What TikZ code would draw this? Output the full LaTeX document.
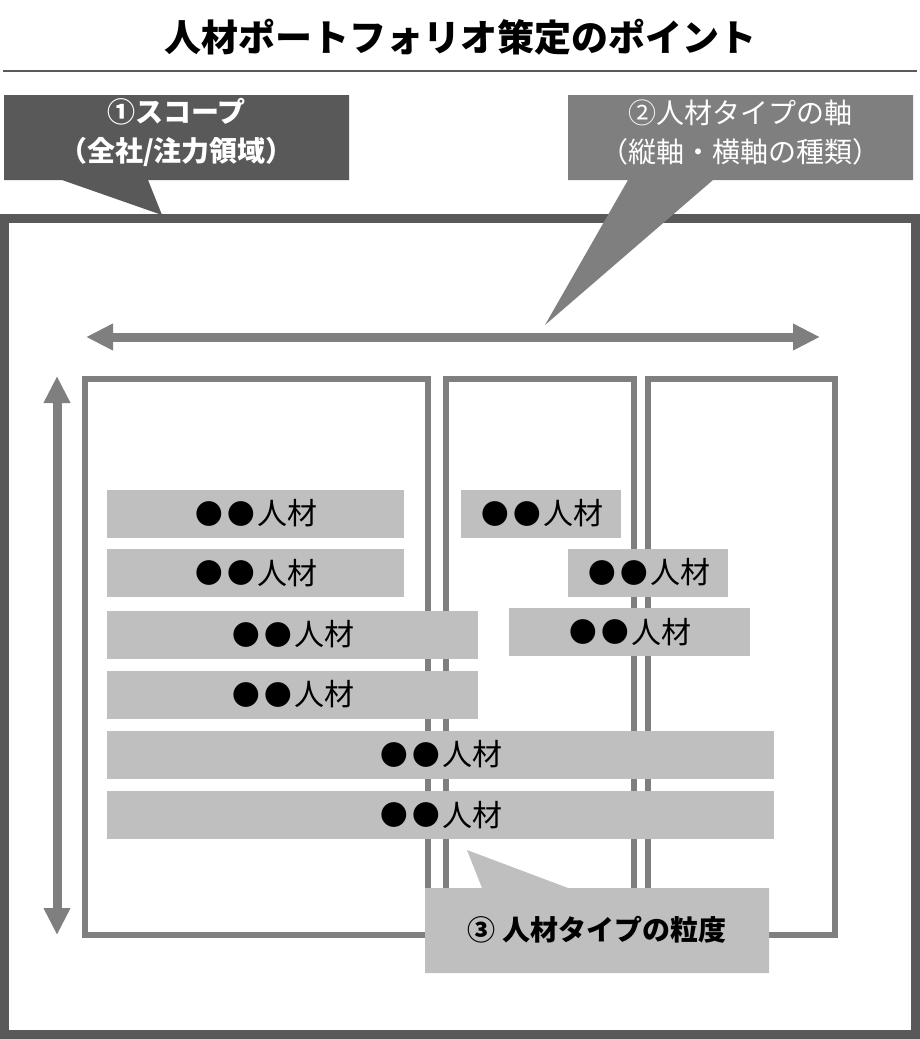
\documentclass[tikz,border=0pt]{standalone}
\usepackage{fontspec}
\usepackage{graphicx}
\setmainfont{Noto Sans CJK JP}
\usetikzlibrary{arrows.meta}
\definecolor{dk}{HTML}{595959}
\definecolor{md}{HTML}{7F7F7F}
\definecolor{lt}{HTML}{BFBFBF}
\newcommand\bdotx{\makebox[1.08em]{\raisebox{0.03em}{\scalebox{0.92}{●}}}}
\newcommand\jinzai{\raisebox{2pt}{\bdotx\bdotx 人材}}
\tikzset{
  bar/.style={fill=lt, inner sep=0pt, minimum height=48pt, font=\fontsize{30pt}{36pt}\selectfont, text=black},
  colbox/.style={draw=md, line width=6pt},
  axis/.style={draw=md, line width=9pt, {Triangle[length=27pt,width=25pt]}-{Triangle[length=27pt,width=25pt]}},
  ctext/.style={inner sep=0pt, align=center, font=\fontsize{28pt}{39pt}\selectfont}
}
\begin{document}
\begin{tikzpicture}[x=1pt,y=-1pt]
\useasboundingbox (0,0) rectangle (920,1039);
% title
\node[font=\fontsize{37pt}{44pt}\selectfont\bfseries, inner sep=0pt] (title) at (460,37) {人材ポートフォリオ策定のポイント};
\coordinate (sl) at (3,71);
\coordinate (sr) at (917,71);
\draw[dk, line width=1.2pt] (sl) -- (sr);
% frame
\draw[dk, line width=9pt] (4.5,218) rectangle (915.5,1034.5);
% columns
\draw[colbox] (85,379) rectangle (428,934.5);
\draw[colbox] (446,379) rectangle (634,934.5);
\draw[colbox] (648,379) rectangle (834.5,934.5);
% bars
\node[bar, minimum width=297pt] (r1a) at (255.5,513.5) {\jinzai};
\node[bar, minimum width=160pt] (r1b) at (541,513.5) {\jinzai};
\node[bar, minimum width=297pt] (r2a) at (255.5,573) {\jinzai};
\node[bar, minimum width=160pt] (r2b) at (648,572.5) {\jinzai};
\node[bar, minimum width=371pt] (r3a) at (292.5,634.5) {\jinzai};
\node[bar, minimum width=241pt] (r3b) at (629.5,632) {\jinzai};
\node[bar, minimum width=371pt] (r4a) at (292.5,694.5) {\jinzai};
\node[bar, minimum width=667pt] (r5) at (440.5,754.5) {\jinzai};
\node[bar, minimum width=667pt] (r6) at (440.5,815) {\jinzai};
% callout 3
\fill[lt] (425,888) -- (482,888) -- (467,850) -- (568,888) -- (769,888) -- (769,973) -- (425,973) -- cycle;
\node[ctext, font=\fontsize{28pt}{39pt}\selectfont\bfseries, text=black] (c3) at (597,930) {③ 人材タイプの粒度};
% axes
\coordinate (hl) at (86,337);
\coordinate (hr) at (820,337);
\coordinate (vt) at (57,376);
\coordinate (vb) at (57,935);
\draw[axis] (hl) -- (hr);
\draw[axis] (vt) -- (vb);
% callout 1
\fill[dk] (4,95) -- (349,95) -- (349,180) -- (148,180) -- (162,215) -- (62,180) -- (4,180) -- cycle;
\node[ctext, font=\fontsize{28pt}{39pt}\selectfont\bfseries, text=white] (c1) at (176.5,132.5) {①スコープ\\（全社/注力領域）};
% callout 2
\fill[md] (568,95) -- (913,95) -- (913,180) -- (713,180) -- (545,325) -- (628,180) -- (568,180) -- cycle;
\node[ctext, text=white] (c2) at (740.5,132.5) {②人材タイプの軸\\（縦軸・横軸の種類）};
\end{tikzpicture}
\end{document}
